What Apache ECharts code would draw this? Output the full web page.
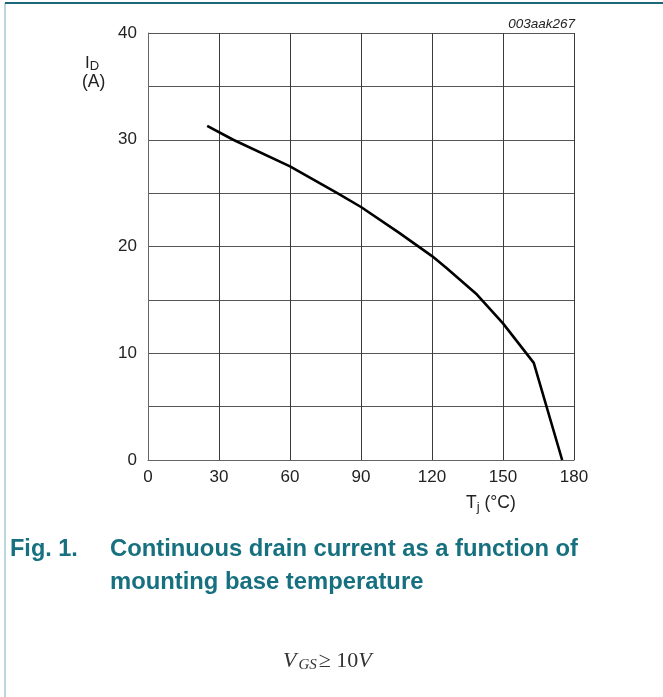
<!DOCTYPE html>
<html>
<head>
<meta charset="utf-8">
<script src="https://cdn.jsdelivr.net/npm/echarts@6/dist/echarts.min.js"></script>
<style>
html,body{margin:0;padding:0;background:#fff;}
#main{width:663px;height:697px;}
</style>
</head>
<body>
<div id="main"></div>
<script>
// Data
var temperatures = [25, 36, 60, 80, 90, 106, 120, 126, 139, 150, 163, 175];
var currents     = [31.3, 30.0, 27.5, 25.0, 23.7, 21.3, 19.1, 18.0, 15.5, 12.8, 9.1, 0];
var xTicks = [0, 30, 60, 90, 120, 150, 180];
var yTicks = [0, 10, 20, 30, 40];

var teal = '#17707f';
var serif = 'Liberation Serif, Times New Roman, serif';
var chart = echarts.init(document.getElementById('main'), null, {renderer: 'canvas'});
var seriesData = temperatures.map(function (t, i) { return [t, currents[i]]; });

chart.setOption({
  animation: false,
  backgroundColor: '#fff',
  textStyle: {fontFamily: 'Liberation Sans, Arial, sans-serif'},
  grid: {left: 148, right: 89, top: 33, bottom: 237},
  title: [
    {text: '003aak267', right: 83, top: 12,
     textStyle: {fontSize: 13.5, fontStyle: 'italic', fontWeight: 'normal', color: '#222'}},
    {text: '{i|I}{d|D}\n{a|(A)}', left: 77, top: 49,
     textStyle: {fontWeight: 'normal', rich: {
       i: {fontSize: 17, fontWeight: 'normal', color: '#222', lineHeight: 18, padding: [0, 0, 0, 3]},
       d: {fontSize: 13, fontWeight: 'normal', color: '#222', padding: [6, 0, 0, 0]},
       a: {fontSize: 17.5, fontWeight: 'normal', color: '#222', lineHeight: 18}
     }}},
    {text: '{t|T}{j|j}{t| (°C)}', left: 461, top: 487,
     textStyle: {fontWeight: 'normal', rich: {
       t: {fontSize: 17.5, fontWeight: 'normal', color: '#222'},
       j: {fontSize: 13, fontWeight: 'normal', color: '#222', padding: [9, 0, 0, 0]}
     }}},
    {text: 'Fig. 1.', left: 5, top: 528,
     textStyle: {fontSize: 23.5, fontWeight: 'bold', color: teal, lineHeight: 33}},
    {text: 'Continuous drain current as a function of\nmounting base temperature', left: 105, top: 528,
     textStyle: {fontSize: 23.8, fontWeight: 'bold', color: teal, lineHeight: 33}},
    {text: '{v|V}{s|GS}{o|≥ 10}{v|V}', left: 278, top: 645,
     textStyle: {fontWeight: 'normal', rich: {
       v: {fontSize: 22, fontStyle: 'italic', fontWeight: 'normal', fontFamily: serif, color: '#333'},
       s: {fontSize: 15, fontStyle: 'italic', fontWeight: 'normal', fontFamily: serif, color: '#333', padding: [8, 2, 0, 2]},
       o: {fontSize: 22, fontWeight: 'normal', fontFamily: serif, color: '#333'}
     }}}
  ],
  xAxis: {
    type: 'value', min: 0, max: 180, interval: 30,
    axisLine: {show: true, lineStyle: {color: '#666', width: 1}},
    axisTick: {show: false},
    axisLabel: {fontSize: 17, color: '#222', margin: 9,
      formatter: function (v) { return xTicks.indexOf(v) >= 0 ? String(v) : ''; }},
    splitLine: {show: true, lineStyle: {color: '#3a3a3a', width: 1}}
  },
  yAxis: {
    type: 'value', min: 0, max: 40, interval: 5,
    axisLine: {show: true, lineStyle: {color: '#666', width: 1}},
    axisTick: {show: false},
    axisLabel: {fontSize: 17, color: '#222', margin: 11,
      formatter: function (v) { return yTicks.indexOf(v) >= 0 ? String(v) : ''; }},
    splitLine: {show: true, lineStyle: {color: '#555', width: 1}}
  },
  graphic: [
    {type: 'rect', shape: {x: 4, y: 3, width: 2, height: 694}, style: {fill: '#bcd6de'}, silent: true},
    {type: 'rect', shape: {x: 5, y: 2, width: 658, height: 2}, style: {fill: '#1d6878'}, silent: true}
  ],
  series: [{
    type: 'line',
    data: seriesData,
    showSymbol: false,
    symbol: 'none',
    lineStyle: {color: '#000', width: 2.6},
    z: 5
  }]
});
</script>
</body>
</html>
